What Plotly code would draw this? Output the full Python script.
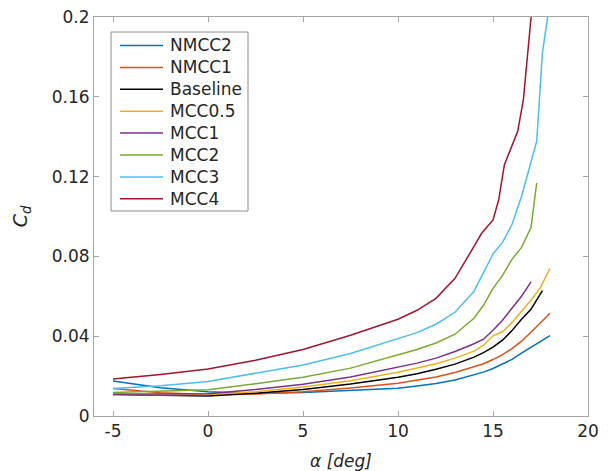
import plotly.graph_objects as go

# ---- data ----
names = ["NMCC2", "NMCC1", "Baseline", "MCC0.5", "MCC1", "MCC2", "MCC3", "MCC4"]
colors = ["#0072BD", "#D95319", "#000000", "#EDB120", "#7E2F8E", "#77AC30", "#4DBEEE", "#A2142F"]

alpha_nmcc2 = [-5, -2.5, 0, 2.5, 5, 7.5, 10, 11, 12, 13, 14, 14.5, 15, 15.5, 16, 16.5, 17, 17.5, 18]
cd_nmcc2 = [0.0175, 0.0142, 0.0121, 0.0113, 0.0118, 0.0128, 0.0139, 0.0150, 0.0163, 0.0180, 0.0205,
            0.0220, 0.0238, 0.0260, 0.0284, 0.0315, 0.0345, 0.0375, 0.0403]

alpha_nmcc1 = [-5, -2.5, 0, 2.5, 5, 7.5, 10, 11, 12, 13, 14, 14.5, 15, 15.5, 16, 16.5, 17, 17.5, 18]
cd_nmcc1 = [0.0138, 0.0117, 0.0108, 0.0110, 0.0121, 0.0140, 0.0164, 0.0180, 0.0196, 0.0218, 0.0245,
            0.0262, 0.0283, 0.0308, 0.0338, 0.0375, 0.0420, 0.0465, 0.0515]

alpha_base = [-5, -2.5, 0, 2.5, 5, 7.5, 10, 11, 12, 13, 14, 14.5, 15, 15.5, 16, 16.5, 17, 17.6]
cd_base = [0.0108, 0.0105, 0.0100, 0.0114, 0.0133, 0.0160, 0.0194, 0.0212, 0.0234, 0.0260, 0.0295,
           0.0318, 0.0345, 0.0380, 0.0428, 0.0485, 0.0535, 0.0628]

alpha_mcc05 = [-5, -2.5, 0, 2.5, 5, 7.5, 10, 11, 12, 13, 14, 14.5, 15, 15.5, 16, 16.5, 17, 17.5, 18]
cd_mcc05 = [0.0110, 0.0107, 0.0108, 0.0122, 0.0145, 0.0177, 0.0219, 0.0240, 0.0262, 0.0290, 0.0325,
            0.0355, 0.0402, 0.0422, 0.0468, 0.0525, 0.0580, 0.0645, 0.0740]

alpha_mcc1 = [-5, -2.5, 0, 2.5, 5, 7.5, 10, 11, 12, 13, 14, 14.5, 15, 15.5, 16, 16.5, 17]
cd_mcc1 = [0.0109, 0.0109, 0.0111, 0.0133, 0.0159, 0.0195, 0.0244, 0.0265, 0.0290, 0.0323, 0.0362,
           0.0385, 0.0430, 0.0480, 0.0540, 0.0600, 0.0672]

alpha_mcc2 = [-5, -2.5, 0, 2.5, 5, 7.5, 10, 11, 12, 13, 14, 14.5, 15, 15.5, 16, 16.5, 17, 17.3]
cd_mcc2 = [0.0118, 0.0124, 0.0132, 0.0162, 0.0194, 0.0240, 0.0308, 0.0333, 0.0366, 0.0410, 0.0490,
           0.0555, 0.0640, 0.0705, 0.0785, 0.0845, 0.0945, 0.1168]

alpha_mcc3 = [-5, -2.5, 0, 2.5, 5, 7.5, 10, 11, 12, 13, 14, 14.5, 15, 15.5, 16, 16.5, 17, 17.3, 17.6, 18]
cd_mcc3 = [0.0138, 0.0152, 0.0173, 0.0213, 0.0256, 0.0313, 0.0390, 0.0418, 0.0460, 0.0520, 0.0625,
           0.0715, 0.0812, 0.0870, 0.0960, 0.1100, 0.1270, 0.1377, 0.1820, 0.2080]

alpha_mcc4 = [-5, -2.5, 0, 2.5, 5, 7.5, 10, 11, 12, 13, 14, 14.4, 15, 15.3, 15.6, 16.3, 16.6, 17.0, 17.2]
cd_mcc4 = [0.0185, 0.0208, 0.0236, 0.0280, 0.0333, 0.0405, 0.0485, 0.0530, 0.0590, 0.0690, 0.0850,
           0.0916, 0.0983, 0.1084, 0.1260, 0.1427, 0.1586, 0.2000, 0.2200]

x_ticks = [-5, 0, 5, 10, 15, 20]
x_tick_text = ["-5", "0", "5", "10", "15", "20"]
y_ticks = [0, 0.04, 0.08, 0.12, 0.16, 0.2]
y_tick_text = ["0", "0.04", "0.08", "0.12", "0.16", "0.2"]

series_x = [alpha_nmcc2, alpha_nmcc1, alpha_base, alpha_mcc05, alpha_mcc1, alpha_mcc2, alpha_mcc3, alpha_mcc4]
series_y = [cd_nmcc2, cd_nmcc1, cd_base, cd_mcc05, cd_mcc1, cd_mcc2, cd_mcc3, cd_mcc4]

# ---- layout geometry (pixels) ----
W, H = 611, 471
ML, MR, MT, MB = 94, 23, 17, 55
PW, PH = W - ML - MR, H - MT - MB


def px_x(p):
    return (p - ML) / PW


def px_y(p):
    return (H - MB - p) / PH


font_family = "DejaVu Sans"
axis_col = "#a6a6a6"
txt_col = "#262626"

fig = go.Figure()
for n, c, xs, ys in zip(names, colors, series_x, series_y):
    fig.add_trace(go.Scatter(x=xs, y=ys, mode="lines", name=n, showlegend=False,
                             line=dict(color=c, width=1.5)))

# ---- legend box drawn as shapes + text ----
LEG_L, LEG_R, LEG_T, LEG_B = 111, 248, 32, 211
ROW0, ROW_STEP = 45.5, 21.9
shapes = [dict(type="rect", xref="paper", yref="paper",
               x0=px_x(LEG_L), x1=px_x(LEG_R), y0=px_y(LEG_B), y1=px_y(LEG_T),
               line=dict(color="#8c8c8c", width=1), fillcolor="white", layer="above")]
annotations = []
for i, (n, c) in enumerate(zip(names, colors)):
    yy = ROW0 + i * ROW_STEP
    shapes.append(dict(type="line", xref="paper", yref="paper",
                       x0=px_x(120), x1=px_x(163), y0=px_y(yy), y1=px_y(yy),
                       line=dict(color=c, width=1.5), layer="above"))
    annotations.append(dict(text=n, xref="paper", yref="paper",
                            x=px_x(168), y=px_y(yy), xanchor="left", yanchor="middle",
                            showarrow=False, font=dict(size=17, color=txt_col)))

fig.update_layout(
    width=W, height=H,
    margin=dict(l=ML, r=MR, t=MT, b=MB),
    paper_bgcolor="white", plot_bgcolor="white",
    font=dict(family=font_family, size=17, color=txt_col),
    showlegend=False,
    shapes=shapes, annotations=annotations,
)
fig.update_xaxes(
    range=[-6, 20], tickmode="array", tickvals=x_ticks, ticktext=x_tick_text,
    ticks="inside", ticklen=5, tickcolor=axis_col,
    showline=True, linecolor=axis_col, linewidth=1, mirror="ticks",
    showgrid=False, zeroline=False, automargin=False,
    title=dict(text="<i>α [deg]</i>", standoff=14, font=dict(size=17)),
)
fig.update_yaxes(
    range=[0, 0.2], tickmode="array", tickvals=y_ticks, ticktext=y_tick_text,
    ticks="inside", ticklen=5, tickcolor=axis_col,
    showline=True, linecolor=axis_col, linewidth=1, mirror="ticks",
    showgrid=False, zeroline=False, automargin=False,
    title=dict(text="<i>C<sub>d</sub></i>", standoff=19, font=dict(size=19)),
)

fig.write_html("out.html", config={"displayModeBar": False},
               post_script="document.body.style.margin='0';document.body.style.padding='0';")
